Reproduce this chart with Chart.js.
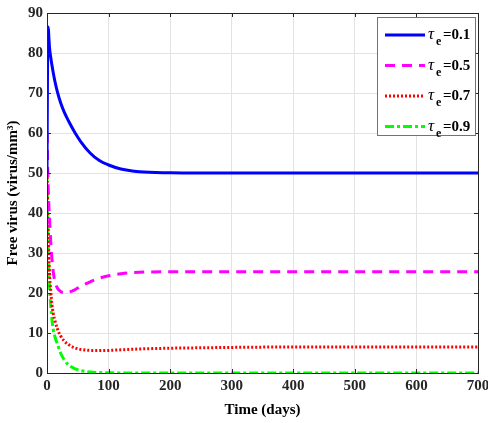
<!DOCTYPE html>
<html>
<head>
<meta charset="utf-8">
<script src="https://cdn.jsdelivr.net/npm/chart.js@4.4.1/dist/chart.umd.min.js"></script>
<style>
  html, body { margin: 0; padding: 0; background: #fff; }
  #wrap { width: 488px; height: 423px; }
</style>
</head>
<body>
<div id="wrap"><canvas id="virusChart" width="488" height="423"></canvas></div>
<script>
// time points (days) and free virus for each tau_e
const days = [0, 1, 2, 3, 4, 6, 8, 10, 13, 17, 22, 28, 35, 45, 55, 70, 85, 100, 120, 150, 200, 250, 300, 400, 500, 600, 700];
const tau01 = [50, 80, 86.5, 84, 81.5, 79, 77, 75.2, 72.8, 70.2, 67.6, 65.2, 63, 60.2, 57.8, 55, 53.1, 52, 51, 50.3, 50.05, 50, 50, 50, 50, 50, 50];
const tau05 = [60, 52, 46, 42, 39, 33, 28.5, 25.5, 22.8, 21.2, 20.4, 20.1, 20.2, 20.8, 21.7, 22.8, 23.7, 24.3, 24.8, 25.2, 25.3, 25.3, 25.3, 25.3, 25.3, 25.3, 25.3];
const tau07 = [50, 42, 35, 29, 25, 20.5, 17.2, 15, 13, 11, 9.3, 8, 7.1, 6.3, 5.9, 5.65, 5.6, 5.65, 5.8, 6, 6.2, 6.3, 6.4, 6.5, 6.5, 6.5, 6.5];
const tau09 = [50, 40, 32, 26, 22, 17, 13.5, 11, 9, 7.2, 5, 3.3, 2, 1.1, 0.6, 0.25, 0.1, 0.05, 0.02, 0, 0, 0, 0, 0, 0, 0, 0];
const legendLabels = ["0.1", "0.5", "0.7", "0.9"];
const xTicks = [0, 100, 200, 300, 400, 500, 600, 700];
const yTicks = [0, 10, 20, 30, 40, 50, 60, 70, 80, 90];

const serif = "'Liberation Serif', 'Times New Roman', serif";
const tickFont = { family: serif, size: 15, weight: "bold" };

function pts(values) {
  return days.map((d, i) => ({ x: d, y: values[i] }));
}

const styles = [
  { color: "#0000ff", dash: [] },
  { color: "#ff00ff", dash: [10, 7] },
  { color: "#ff0000", dash: [2, 2] },
  { color: "#00ff00", dash: [9, 3, 3, 3] },
];

const series = [tau01, tau05, tau07, tau09];

// full box round the plot area, with small inward ticks
const boxPlugin = {
  id: "box",
  afterDraw(chart) {
    const { ctx, chartArea: a, scales } = chart;
    ctx.save();
    ctx.strokeStyle = "#262626";
    ctx.lineWidth = 1;
    ctx.strokeRect(a.left + 0.5, a.top + 0.5, a.right - a.left, a.bottom - a.top);
    ctx.beginPath();
    xTicks.forEach((v) => {
      const x = Math.round(scales.x.getPixelForValue(v)) + 0.5;
      ctx.moveTo(x, a.bottom); ctx.lineTo(x, a.bottom - 4);
      ctx.moveTo(x, a.top); ctx.lineTo(x, a.top + 4);
    });
    yTicks.forEach((v) => {
      const y = Math.round(scales.y.getPixelForValue(v)) + 0.5;
      ctx.moveTo(a.left, y); ctx.lineTo(a.left + 4, y);
      ctx.moveTo(a.right, y); ctx.lineTo(a.right - 4, y);
    });
    ctx.stroke();
    ctx.restore();
  },
};

// legend with subscript e, drawn inside the plot
const legendPlugin = {
  id: "tauLegend",
  afterDraw(chart) {
    const { ctx } = chart;
    const x0 = 377, y0 = 17, w = 98, h = 118;
    ctx.save();
    ctx.fillStyle = "#fff";
    ctx.fillRect(x0, y0, w, h);
    ctx.strokeStyle = "#cc33cc";
    ctx.lineWidth = 1;
    ctx.strokeRect(x0 + 0.5, y0 + 0.5, w, h);
    legendLabels.forEach((lab, i) => {
      const y = 35 + i * 30.5;
      const st = styles[i];
      ctx.strokeStyle = st.color;
      ctx.lineWidth = 3;
      ctx.setLineDash(st.dash);
      ctx.beginPath();
      ctx.moveTo(385, y);
      ctx.lineTo(425, y);
      ctx.stroke();
      ctx.setLineDash([]);
      ctx.fillStyle = "#000";
      ctx.textBaseline = "alphabetic";
      ctx.font = "italic 17px " + serif;
      ctx.fillText("\u03c4", 428, y + 4);
      ctx.font = "bold 12px " + serif;
      ctx.fillText("e", 436, y + 10);
      ctx.font = "bold 15px " + serif;
      ctx.fillText("=" + lab, 443, y + 4);
    });
    ctx.restore();
  },
};

new Chart(document.getElementById("virusChart"), {
  type: "line",
  data: {
    datasets: series.map((vals, i) => ({
      label: "\u03c4e=" + legendLabels[i],
      data: pts(vals),
      borderColor: styles[i].color,
      borderDash: styles[i].dash,
      borderWidth: 3,
      pointRadius: 0,
      fill: false,
      cubicInterpolationMode: "monotone",
    })),
  },
  options: {
    responsive: false,
    animation: false,
    layout: { padding: { top: 12, right: 0, left: 4, bottom: 4 } },
    plugins: { legend: { display: false }, tooltip: { enabled: false } },
    scales: {
      x: {
        type: "linear",
        min: 0,
        max: 700,
        afterBuildTicks: (axis) => { axis.ticks = xTicks.map((v) => ({ value: v })); },
        afterFit: (axis) => { axis.paddingRight = 10; },
        ticks: { color: "#262626", font: tickFont, padding: 4, maxRotation: 0 },
        grid: { color: "#e3e3e3", drawTicks: false },
        border: { color: "#262626" },
        title: { display: true, text: "Time (days)", color: "#000", font: { family: serif, size: 15, weight: "bold" }, padding: { top: 2, bottom: 0 } },
      },
      y: {
        min: 0,
        max: 90,
        afterBuildTicks: (axis) => { axis.ticks = yTicks.map((v) => ({ value: v })); },
        ticks: { color: "#262626", font: tickFont, padding: 4 },
        grid: { color: "#e3e3e3", drawTicks: false },
        border: { color: "#262626" },
        title: { display: true, text: "Free virus (virus/mm\u00b3)", color: "#000", font: { family: serif, size: 15, weight: "bold" }, padding: { top: 0, bottom: 2 } },
      },
    },
  },
  plugins: [boxPlugin, legendPlugin],
});
</script>
</body>
</html>
